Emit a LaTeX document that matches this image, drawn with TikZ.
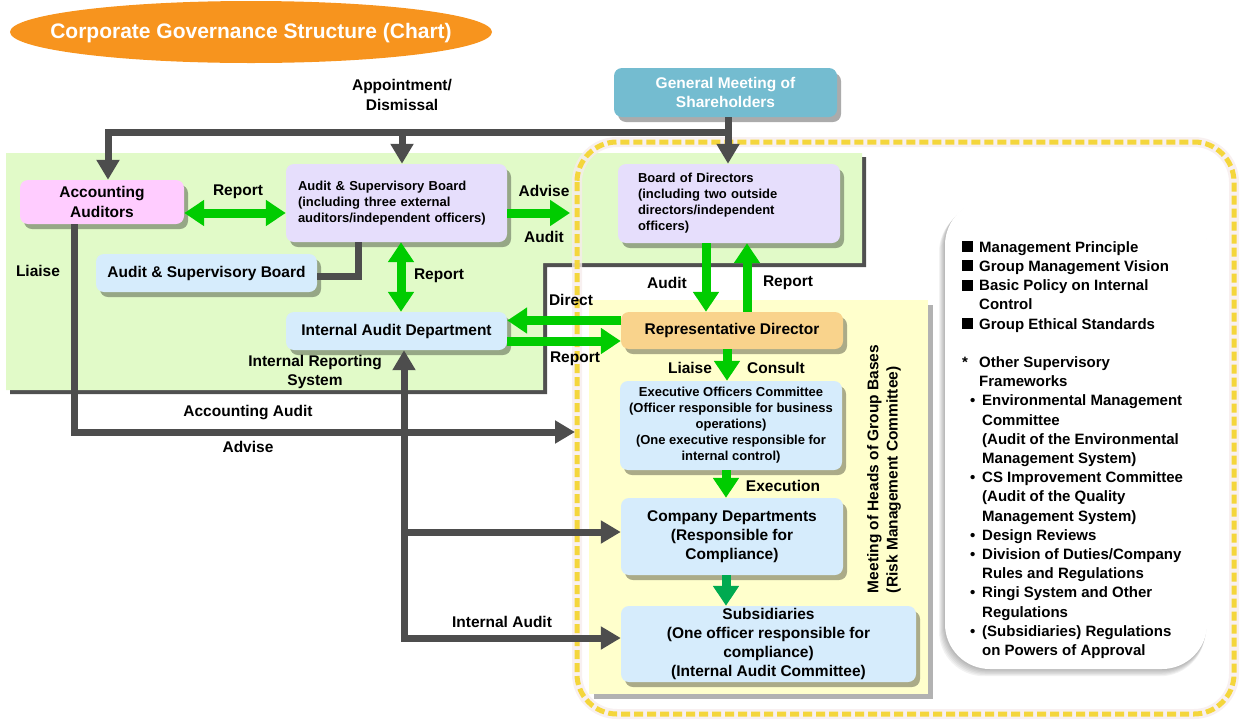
\documentclass[tikz,border=0pt]{standalone}
\usepackage{fontspec}
\setmainfont{Liberation Sans}
\usetikzlibrary{arrows.meta,shapes.geometric,shadows}

\definecolor{titleorange}{RGB}{247,148,30}
\definecolor{panelgreen}{RGB}{225,250,200}
\definecolor{panelshade}{RGB}{80,80,80}
\definecolor{paleyellow}{RGB}{255,255,204}
\definecolor{boxpink}{RGB}{255,204,255}
\definecolor{boxlilac}{RGB}{230,222,252}
\definecolor{boxblue}{RGB}{214,236,252}
\definecolor{boxteal}{RGB}{116,188,208}
\definecolor{boxapricot}{RGB}{249,211,140}
\definecolor{arrowgray}{RGB}{77,77,77}
\definecolor{arrowgreen}{RGB}{0,204,0}
\definecolor{arrowdeep}{RGB}{0,170,80}
\definecolor{bordergold}{RGB}{244,214,60}
\definecolor{borderhalo}{RGB}{246,236,236}

\newcommand\fbig{\bfseries\fontsize{15.5}{19.2}\selectfont}
\newcommand\fsmall{\bfseries\fontsize{13}{16}\selectfont}
\newcommand\sqmark{\makebox[17pt][l]{\rule{11pt}{11pt}}}
\newcommand\bulmark{\makebox[20pt][l]{\hspace*{8pt}\textbullet}}

\begin{document}
\begin{tikzpicture}[x=1pt,y=-1pt,
  boxshadow/.style={drop shadow={shadow xshift=4pt,shadow yshift=-5pt,opacity=0.33,fill=black}},
  box/.style={rounded corners=8pt,inner sep=0pt,align=center,font=\fbig,boxshadow},
  lbl/.style={inner sep=0pt,align=center,font=\fbig},
  gline/.style={draw=arrowgray,line width=7pt},
  garrow/.style={gline,-{Triangle[width=22pt,length=20pt]}},
  gdouble/.style={gline,{Triangle[width=22pt,length=20pt]}-{Triangle[width=22pt,length=20pt]}},
  grarrow/.style={draw=arrowgreen,line width=9pt,-{Triangle[width=25pt,length=20pt]}},
  grdouble/.style={draw=arrowgreen,line width=9pt,{Triangle[width=25pt,length=20pt]}-{Triangle[width=25pt,length=20pt]}}
]
\useasboundingbox (0,0) rectangle (1248,721);

% title
\fill[titleorange] (251,32) ellipse [x radius=241, y radius=31];
\node[inner sep=0pt,text=white,font=\bfseries\fontsize{21}{24}\selectfont] (title) at (251,33)
      {Corporate Governance Structure (Chart)};

% audit area panel with its shadow
\fill[panelshade] (10,157) -- (866,157) -- (866,267) -- (547,267) -- (547,394) -- (10,394) -- cycle;
\fill[panelgreen] (6,153) -- (862,153) -- (862,263) -- (543,263) -- (543,390) -- (6,390) -- cycle;

% group execution panel
\node[fill=paleyellow,minimum width=339pt,minimum height=394pt,inner sep=0pt,
      drop shadow={shadow xshift=5pt,shadow yshift=-5pt,opacity=0.3,fill=black}] (grp) at (758.5,497) {};

% governance boundary
\draw[borderhalo,line width=10pt,rounded corners=40pt,opacity=0.8] (577,142) rectangle (1234,714);
\draw[bordergold,line width=5pt,rounded corners=40pt,dash pattern=on 9pt off 4pt] (577,142) rectangle (1234,714);

% policies panel with a soft shadow
\foreach \d in {1,...,6}
  \fill[black,opacity=0.05,rounded corners=45pt] (945-\d,200+1.2*\d) rectangle (1207-0.3*\d,669+1.2*\d);
\node[fill=white,rounded corners=45pt,minimum width=262pt,minimum height=469pt,inner sep=0pt] (pol) at (1076,434.5) {};
\node[anchor=north west,inner sep=0pt,align=left,font=\bfseries\fontsize{15}{19.2}\selectfont] (poltext) at (962,241)
{\sqmark Management Principle\\
 \sqmark Group Management Vision\\
 \sqmark Basic Policy on Internal\\
 \hspace*{17pt}Control\\
 \sqmark Group Ethical Standards\\[19.2pt]
 \makebox[17pt][l]{*}Other Supervisory\\
 \hspace*{17pt}Frameworks\\
 \bulmark Environmental Management\\
 \hspace*{20pt}Committee\\
 \hspace*{20pt}(Audit of the Environmental\\
 \hspace*{20pt}Management System)\\
 \bulmark CS Improvement Committee\\
 \hspace*{20pt}(Audit of the Quality\\
 \hspace*{20pt}Management System)\\
 \bulmark Design Reviews\\
 \bulmark Division of Duties/Company\\
 \hspace*{20pt}Rules and Regulations\\
 \bulmark Ringi System and Other\\
 \hspace*{20pt}Regulations\\
 \bulmark (Subsidiaries) Regulations\\
 \hspace*{20pt}on Powers of Approval};

% organisation boxes
\node[box,fill=boxteal,text=white,minimum width=223pt,minimum height=49pt] (GMS) at (725.5,92.5)
  {General Meeting of\\Shareholders};
\node[box,fill=boxpink,minimum width=164pt,minimum height=44pt] (AA) at (102,202)
  {Accounting\\Auditors};
\node[box,fill=boxlilac,minimum width=221pt,minimum height=78pt,font=\fsmall,align=left,
      text width=197pt,inner xsep=12pt] (ASB) at (396.5,203)
  {Audit \& Supervisory Board\\(including three external\\auditors/independent officers)};
\node[box,fill=boxblue,minimum width=221pt,minimum height=38pt] (ASBs) at (206.5,273)
  {Audit \& Supervisory Board};
\node[box,fill=boxblue,minimum width=221pt,minimum height=38pt] (IAD) at (396.5,331)
  {Internal Audit Department};
\node[box,fill=boxlilac,minimum width=222pt,minimum height=79pt,font=\fsmall,align=left,
      text width=182pt,inner xsep=20pt] (BoD) at (729,203.5)
  {Board of Directors\\(including two outside\\directors/independent\\officers)};
\node[box,fill=boxapricot,minimum width=222pt,minimum height=37pt] (RD) at (732,330.5)
  {Representative Director};
\node[box,fill=boxblue,minimum width=222pt,minimum height=89pt,font=\fsmall] (EOC) at (731,425.5)
  {Executive Officers Committee\\(Officer responsible for business\\operations)\\(One executive responsible for\\internal control)};
\node[box,fill=boxblue,minimum width=222pt,minimum height=77pt] (CD) at (732,536.5)
  {Company Departments\\(Responsible for\\Compliance)};
\node[box,fill=boxblue,minimum width=295pt,minimum height=76pt] (Subs) at (768.5,644)
  {Subsidiaries\\(One officer responsible for\\compliance)\\(Internal Audit Committee)};

\node[lbl,rotate=90,align=left] (mhg) at (884,469)
  {Meeting of Heads of Group Bases\\(Risk Management Committee)};

% connector end points
\coordinate (J) at (728,132);
\coordinate (advend) at (570,213);
\coordinate (aaend) at (575,432);
\coordinate (ia) at (404,638);
\coordinate (cdin) at ([yshift=4.5pt]CD.west);

% appointment / dismissal
\draw[garrow] (GMS.south -| J) -- (BoD.north -| J);
\draw[garrow] (J) -| ([xshift=6pt]AA.north);
\draw[garrow] ([xshift=5.5pt]ASB.north |- J) -- ([xshift=5.5pt]ASB.north);

% audit & supervisory board link
\draw[gline] ([yshift=-3pt]ASBs.east) -| ([xshift=-38.5pt]ASB.south);

% accounting audit
\draw[garrow] ([xshift=-28pt]AA.south) |- (aaend);

% internal audit and internal reporting
\draw[gdouble] (ia -| Subs.west) -- (ia) -- (ia |- IAD.south);
\draw[garrow] (ia |- cdin) -- (cdin);

% green relations
\draw[grdouble] ([yshift=-11pt]AA.east) -- ([yshift=-11pt]AA.east -| ASB.west);
\draw[grarrow] ([yshift=-10pt]ASB.east) -- (advend);
\draw[grdouble] ([xshift=4.5pt]ASB.south) -- ([xshift=4.5pt]IAD.north);
\draw[grarrow] ([yshift=10pt]RD.west) -- ([yshift=10pt]RD.west -| IAD.east);
\draw[grarrow] ([yshift=-10pt]IAD.east) -- ([yshift=-10pt]IAD.east -| RD.west);
\draw[grarrow] ([xshift=-23pt]BoD.south) -- ([xshift=-23pt]BoD.south |- RD.north);
\draw[grarrow] ([xshift=18pt]BoD.south |- RD.north) -- ([xshift=18pt]BoD.south);
\draw[grarrow] ([xshift=-5pt]RD.south) -- ([xshift=-5pt]RD.south |- EOC.north);
\draw[grarrow] ([xshift=-5pt]EOC.south) -- ([xshift=-5pt]EOC.south |- CD.north);
\draw[grarrow,draw=arrowdeep] ([xshift=-6pt]CD.south) -- ([xshift=-6pt]CD.south |- Subs.north);

% labels
\node[lbl] (lapp) at (402,95) {Appointment/\\Dismissal};
\node[lbl] (lrep1) at (238,192) {Report};
\node[lbl] (ladv1) at (544,191) {Advise};
\node[lbl] (laud1) at (544,237) {Audit};
\node[lbl] (lliai1) at (38,271) {Liaise};
\node[lbl] (lrep2) at (439,276) {Report};
\node[lbl] (ldir) at (571,300) {Direct};
\node[lbl] (lrep3) at (575,359) {Report};
\node[lbl] (lirs) at (315,372) {Internal Reporting\\System};
\node[lbl] (lacc) at (248,413) {Accounting Audit};
\node[lbl] (ladv2) at (248,447) {Advise};
\node[lbl] (laud2) at (667,283) {Audit};
\node[lbl] (lrep4) at (788,283) {Report};
\node[lbl] (lliai2) at (690,368) {Liaise};
\node[lbl] (lcons) at (776,368) {Consult};
\node[lbl] (lexec) at (783,486) {Execution};
\node[lbl] (lia) at (502,622) {Internal Audit};
\end{tikzpicture}
\end{document}
